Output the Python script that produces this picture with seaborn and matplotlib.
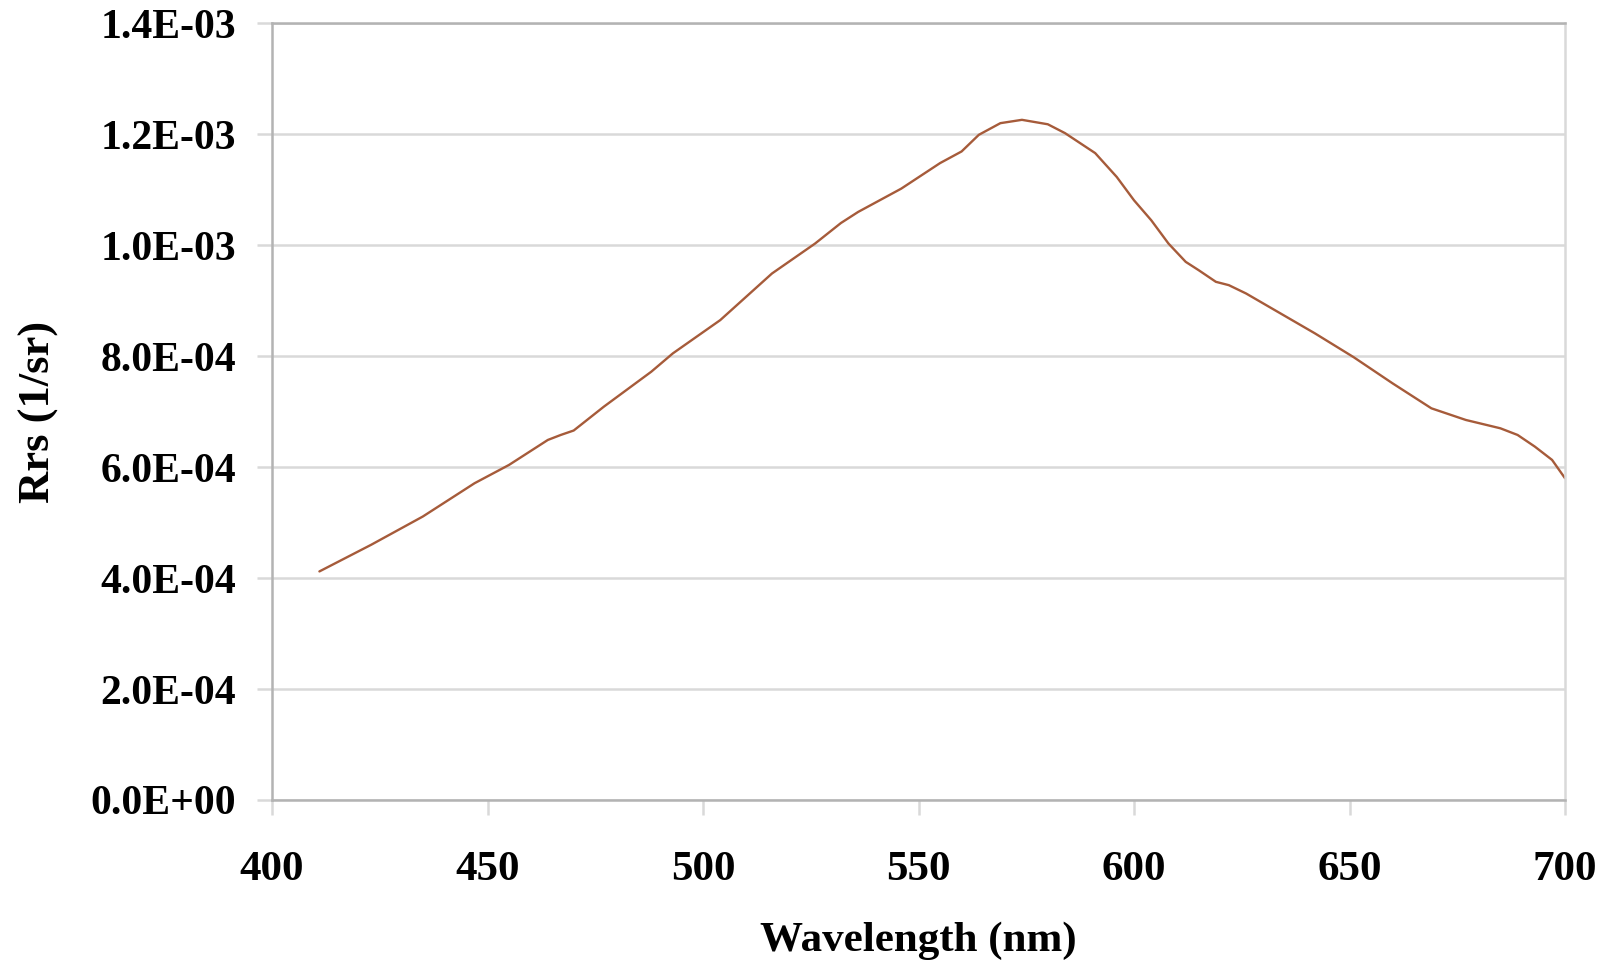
import matplotlib
matplotlib.use("Agg")
import matplotlib.pyplot as plt
import matplotlib.ticker as mticker
import pandas as pd
import seaborn as sns

# Rrs spectrum (wavelength in nm, Rrs in 1/sr)
wavelength = [411, 423, 435, 447, 455, 464, 467, 470, 477, 488, 493, 504, 516,
              526, 532, 536, 546, 555, 560, 564, 569, 574, 580, 584, 591, 596,
              600, 604, 608, 612, 615, 619, 622, 626, 632, 642, 651, 660, 669,
              677, 685, 689, 693, 697, 700]
rrs_e3 = [0.412, 0.460, 0.511, 0.571, 0.604, 0.649, 0.658, 0.666, 0.709, 0.772,
          0.805, 0.865, 0.949, 1.003, 1.040, 1.060, 1.102, 1.148, 1.169, 1.199,
          1.220, 1.226, 1.218, 1.202, 1.166, 1.123, 1.081, 1.045, 1.003, 0.970,
          0.955, 0.934, 0.928, 0.913, 0.886, 0.841, 0.798, 0.751, 0.706, 0.685,
          0.670, 0.658, 0.637, 0.613, 0.580]
rrs = [v * 1e-3 for v in rrs_e3]

x_ticks = [400, 450, 500, 550, 600, 650, 700]
y_ticks = [0.0, 2e-4, 4e-4, 6e-4, 8e-4, 1.0e-3, 1.2e-3, 1.4e-3]

sns.set_theme(style="white")
plt.rcParams["font.family"] = ["Liberation Serif", "DejaVu Serif"]
plt.rcParams["font.weight"] = "bold"

LINE = "#A65B3A"
GRID = "#D9D9D9"
SPINE = "#B3B3B3"

df = pd.DataFrame({"wavelength": wavelength, "rrs": rrs})

fig = plt.figure(figsize=(16.04, 9.67), dpi=100)
ax = fig.add_axes([272 / 1604, 1 - 800 / 967, (1565 - 272) / 1604, (800 - 23.3) / 967])

sns.lineplot(data=df, x="wavelength", y="rrs", ax=ax, color=LINE,
             linewidth=1.7, sort=False, estimator=None)

ax.set_xlim(400, 700)
ax.set_ylim(0, 1.4e-3)
ax.set_xticks(x_ticks)
ax.set_yticks(y_ticks)
ax.yaxis.set_major_formatter(mticker.FuncFormatter(lambda v, p: f"{v:.1E}"))

ax.yaxis.grid(True, color=GRID, linewidth=1.8)
ax.xaxis.grid(False)
ax.set_axisbelow(True)

for side in ["left", "bottom", "top"]:
    ax.spines[side].set_color(SPINE)
    ax.spines[side].set_linewidth(1.8)
ax.spines["right"].set_color(GRID)
ax.spines["right"].set_linewidth(1.8)

ax.tick_params(axis="y", which="major", left=True, direction="out", length=10.8,
               width=1.8, color=GRID, pad=15, labelsize=30, labelcolor="black")
ax.tick_params(axis="x", which="major", bottom=True, direction="out", length=10.8,
               width=1.8, color=GRID, pad=26, labelsize=31, labelcolor="black")
for lab in ax.get_xticklabels() + ax.get_yticklabels():
    lab.set_fontweight("bold")

ax.set_xlabel("Wavelength (nm)", fontsize=31, fontweight="bold", color="black")
ax.set_ylabel("Rrs (1/sr)", fontsize=32, fontweight="bold", color="black")
ax.xaxis.set_label_coords(0.5, -(922 - 800) / 776.7)
ax.yaxis.label.set_va("center")
ax.yaxis.set_label_coords((39 - 272) / 1293, 0.5)

fig.savefig("out.png", dpi=100)
